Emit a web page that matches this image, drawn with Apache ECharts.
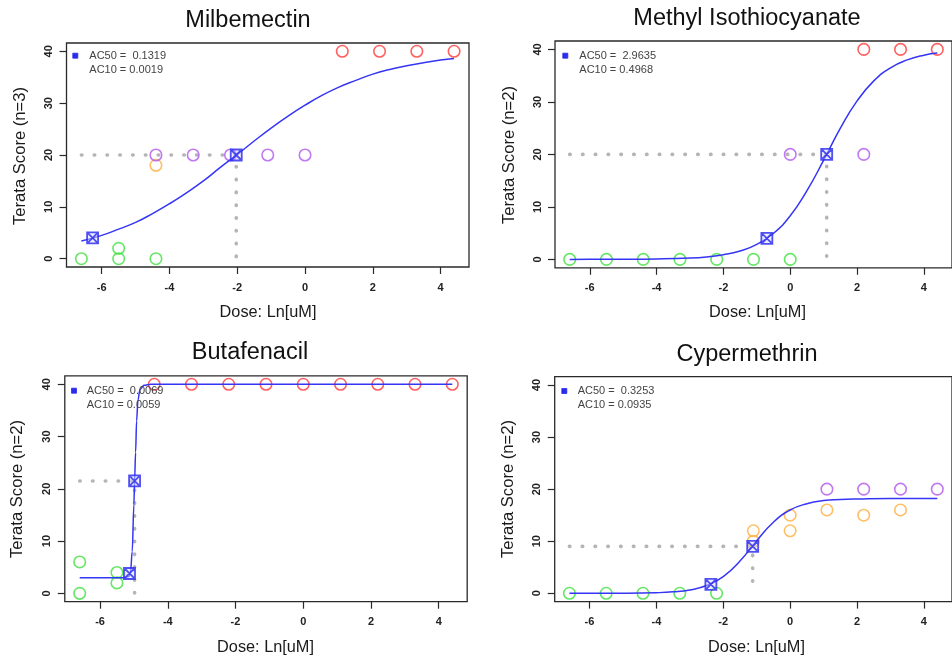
<!DOCTYPE html>
<html>
<head>
<meta charset="utf-8">
<script src="https://cdn.jsdelivr.net/npm/echarts@6/dist/echarts.min.js"></script>
<style>
html,body{margin:0;padding:0;background:#fff;}
#chart{width:952px;height:661px;}
</style>
</head>
<body>
<div id="chart"></div>
<script>
// ---------- DATA ----------
const titles = ['Milbemectin', 'Methyl Isothiocyanate', 'Butafenacil', 'Cypermethrin'];
const yNames = ['Terata Score (n=3)', 'Terata Score (n=2)', 'Terata Score (n=2)', 'Terata Score (n=2)'];
const xName = 'Dose: Ln[uM]';
const xTicks = [-6, -4, -2, 0, 2, 4];
const yTicks = [0, 10, 20, 30, 40];
const ac50Text = ['AC50 =  0.1319', 'AC50 =  2.9635', 'AC50 =  0.0069', 'AC50 =  0.3253'];
const ac10Text = ['AC10 = 0.0019', 'AC10 = 0.4968', 'AC10 = 0.0059', 'AC10 = 0.0935'];

// Milbemectin
const milGreen = [[-6.6, 0], [-5.5, 0], [-5.5, 2], [-4.4, 0]];
const milOrange = [[-4.4, 18]];
const milPurple = [[-4.4, 20], [-3.3, 20], [-2.2, 20], [-1.1, 20], [0, 20]];
const milRed = [[1.1, 40], [2.2, 40], [3.3, 40], [4.4, 40]];
const milCurve = [[-6.6, 3.4], [-6, 4.5], [-5.5, 5.7], [-5, 7.0], [-4.5, 8.7], [-4, 10.6], [-3.5, 12.7], [-3, 15.0], [-2.5, 17.6], [-2, 20.1], [-1.5, 22.7], [-1, 25.2], [-0.5, 27.5], [0, 29.6], [0.5, 31.5], [1, 33.1], [1.5, 34.4], [2, 35.6], [2.5, 36.5], [3, 37.2], [3.5, 37.8], [4, 38.3], [4.4, 38.6]];
const milMarks = [[-6.27, 4], [-2.03, 20]];
const milGuide = [[-6.6, 20], [-2.03, 20], [-2.03, 0]];

// Methyl Isothiocyanate
const mitGreen = [[-6.6, 0], [-5.5, 0], [-4.4, 0], [-3.3, 0], [-2.2, 0], [-1.1, 0], [0, 0]];
const mitOrange = [];
const mitPurple = [[0, 20], [2.2, 20]];
const mitRed = [[2.2, 40], [3.3, 40], [4.4, 40]];
const mitCurve = [[-6.6, 0], [-6, 0.01], [-5, 0.02], [-4, 0.08], [-3, 0.26], [-2.5, 0.48], [-2, 0.88], [-1.5, 1.6], [-1, 2.86], [-0.5, 4.98], [0, 8.3], [0.5, 13.1], [1, 18.9], [1.5, 25.0], [2, 30.2], [2.5, 34.0], [3, 36.5], [3.5, 38.0], [4, 38.9], [4.4, 39.3]];
const mitMarks = [[-0.70, 4], [1.09, 20]];
const mitGuide = [[-6.6, 20], [1.09, 20], [1.09, 0]];

// Butafenacil
const butGreen = [[-6.6, 6], [-6.6, 0], [-5.5, 4], [-5.5, 2]];
const butOrange = [];
const butPurple = [];
const butRed = [[-4.4, 40], [-3.3, 40], [-2.2, 40], [-1.1, 40], [0, 40], [1.1, 40], [2.2, 40], [3.3, 40], [4.4, 40]];
const butCurve = [[-6.6, 3], [-5.3, 3], [-5.15, 3.2], [-5.1, 4], [-5.05, 8], [-5.0, 17], [-4.98, 21.5], [-4.95, 27], [-4.92, 33], [-4.88, 37], [-4.82, 39], [-4.7, 39.8], [-4.5, 40], [4.4, 40]];
const butMarks = [[-5.13, 3.8], [-4.98, 21.5]];
const butGuide = [[-6.6, 21.5], [-4.98, 21.5], [-4.98, 0]];

// Cypermethrin
const cypGreen = [[-6.6, 0], [-5.5, 0], [-4.4, 0], [-3.3, 0], [-2.2, 0]];
const cypOrange = [[-1.1, 12], [-1.1, 10], [0, 15], [0, 12], [1.1, 16], [2.2, 15], [3.3, 16]];
const cypPurple = [[1.1, 20], [2.2, 20], [3.3, 20], [4.4, 20]];
const cypRed = [];
const cypCurve = [[-6.6, 0], [-5, 0.02], [-4, 0.11], [-3.5, 0.27], [-3, 0.64], [-2.5, 1.48], [-2, 3.2], [-1.5, 6.18], [-1, 10.1], [-0.5, 13.65], [0, 16.0], [0.5, 17.2], [1, 17.8], [1.5, 18.0], [2, 18.1], [3, 18.2], [4.4, 18.2]];
const cypMarks = [[-2.37, 1.7], [-1.12, 9.0]];
const cypGuide = [[-6.6, 9.0], [-1.12, 9.0], [-1.12, 0]];

const panels = [
  {green: milGreen, orange: milOrange, purple: milPurple, red: milRed, curve: milCurve, marks: milMarks, guide: milGuide, mono: false},
  {green: mitGreen, orange: mitOrange, purple: mitPurple, red: mitRed, curve: mitCurve, marks: mitMarks, guide: mitGuide, mono: false},
  {green: butGreen, orange: butOrange, purple: butPurple, red: butRed, curve: butCurve, marks: butMarks, guide: butGuide, mono: true},
  {green: cypGreen, orange: cypOrange, purple: cypPurple, red: cypRed, curve: cypCurve, marks: cypMarks, guide: cypGuide, mono: false}
];

// ---------- LAYOUT / STYLE ----------
const FONT = 'Liberation Sans, Arial, Helvetica, sans-serif';
const grids = [
  {left: 66.5, top: 43, width: 402.5, height: 224},
  {left: 555, top: 41, width: 404.7, height: 226.8},
  {left: 64.8, top: 375.9, width: 402.4, height: 225.8},
  {left: 554.7, top: 376.7, width: 403, height: 224.9}
];
const titlePos = [[248, 20.5], [747, 18.7], [250, 352.5], [747, 354.7]];
const xNamePos = [[268, 313], [757.5, 313], [265.5, 648], [756.5, 648]];
const yNamePos = [[20.5, 156], [509.3, 155], [17.5, 489], [508.3, 489]];
const legSq = [[75.3, 55.7], [565.3, 55.7], [74, 390.7], [564.3, 391]];
const legTx = [89.3, 579.3, 86.7, 577.7];

const COLORS = {green: '#3ee03e', orange: '#ffaf3f', purple: '#b058ee', red: '#ff3a3a'};
const MARK_PATH = 'path://M0 0H10V10H0Z M0 0L10 10 M10 0L0 10';

const chart = echarts.init(document.getElementById('chart'), null, {renderer: 'canvas'});

const gridOpt = [], xAxes = [], yAxes = [], series = [], graphics = [];

grids.forEach((g, i) => {
  gridOpt.push(Object.assign({show: true, borderColor: '#2a2a2a', borderWidth: 1.3, backgroundColor: '#fff', containLabel: false}, g));
  xAxes.push({
    type: 'value', gridIndex: i, min: -7.04, max: 4.84, position: 'bottom',
    axisLine: {show: false, onZero: false}, splitLine: {show: false},
    axisTick: {show: true, inside: false, length: 7, customValues: xTicks, lineStyle: {color: '#2a2a2a', width: 1.2}},
    axisLabel: {customValues: xTicks, margin: 15, fontSize: 11, fontWeight: 'bold', color: '#222', fontFamily: FONT}
  });
  yAxes.push({
    type: 'value', gridIndex: i, min: -1.6, max: 41.6, position: 'left',
    axisLine: {show: false, onZero: false}, splitLine: {show: false},
    axisTick: {show: true, inside: false, length: 7, customValues: yTicks, lineStyle: {color: '#2a2a2a', width: 1.2}},
    axisLabel: {customValues: yTicks, rotate: 90, margin: 12, fontSize: 11, fontWeight: 'bold', color: '#222', fontFamily: FONT}
  });
  const p = panels[i];
  series.push({
    type: 'line', xAxisIndex: i, yAxisIndex: i, data: p.guide, showSymbol: false, silent: true, z: 1,
    lineStyle: {color: '#b5b5b5', width: 3.6, type: [0.5, 12.3], cap: 'round'}
  });
  ['green', 'orange', 'purple', 'red'].forEach(c => {
    series.push({
      type: 'scatter', xAxisIndex: i, yAxisIndex: i, data: p[c], symbol: 'circle', symbolSize: 11.5, z: 2,
      itemStyle: {color: 'rgba(0,0,0,0)', borderColor: COLORS[c], borderWidth: 1.6}, silent: true
    });
  });
  const curve = {
    type: 'line', xAxisIndex: i, yAxisIndex: i, data: p.curve, showSymbol: false, z: 3, silent: true,
    lineStyle: {color: '#3535f5', width: 1.5}
  };
  if (p.mono) { curve.smooth = 0.35; curve.smoothMonotone = 'x'; } else { curve.smooth = 0.5; }
  series.push(curve);
  series.push({
    type: 'scatter', xAxisIndex: i, yAxisIndex: i, data: p.marks, symbol: MARK_PATH, symbolSize: 11, z: 4, silent: true,
    itemStyle: {color: 'rgba(220,220,255,0.6)', borderColor: '#2727ee', borderWidth: 1.8}
  });

  // texts
  graphics.push({type: 'text', x: titlePos[i][0], y: titlePos[i][1], silent: true,
    style: {text: titles[i], fontSize: 23.5, fontFamily: FONT, fill: '#111', align: 'center', verticalAlign: 'middle'}});
  graphics.push({type: 'text', x: xNamePos[i][0], y: xNamePos[i][1], silent: true,
    style: {text: xName, fontSize: 16.3, fontFamily: FONT, fill: '#1a1a1a', align: 'center', verticalAlign: 'middle'}});
  graphics.push({type: 'text', x: yNamePos[i][0], y: yNamePos[i][1], rotation: Math.PI / 2, silent: true,
    style: {text: yNames[i], fontSize: 16.6, fontFamily: FONT, fill: '#1a1a1a', align: 'center', verticalAlign: 'middle'}});
  graphics.push({type: 'rect', shape: {x: legSq[i][0] - 2.5, y: legSq[i][1] - 2.5, width: 5, height: 5}, silent: true, z: 10,
    style: {fill: '#2a2af0', stroke: '#2a2af0', lineWidth: 0.8}});
  graphics.push({type: 'text', x: legTx[i], y: legSq[i][1], silent: true, z: 10,
    style: {text: ac50Text[i], fontSize: 11, fontFamily: FONT, fill: '#444', align: 'left', verticalAlign: 'middle'}});
  graphics.push({type: 'text', x: legTx[i], y: legSq[i][1] + 14.2, silent: true, z: 10,
    style: {text: ac10Text[i], fontSize: 11, fontFamily: FONT, fill: '#444', align: 'left', verticalAlign: 'middle'}});
});

chart.setOption({
  animation: false,
  backgroundColor: '#fff',
  grid: gridOpt,
  xAxis: xAxes,
  yAxis: yAxes,
  series: series,
  graphic: graphics
});
</script>
</body>
</html>
